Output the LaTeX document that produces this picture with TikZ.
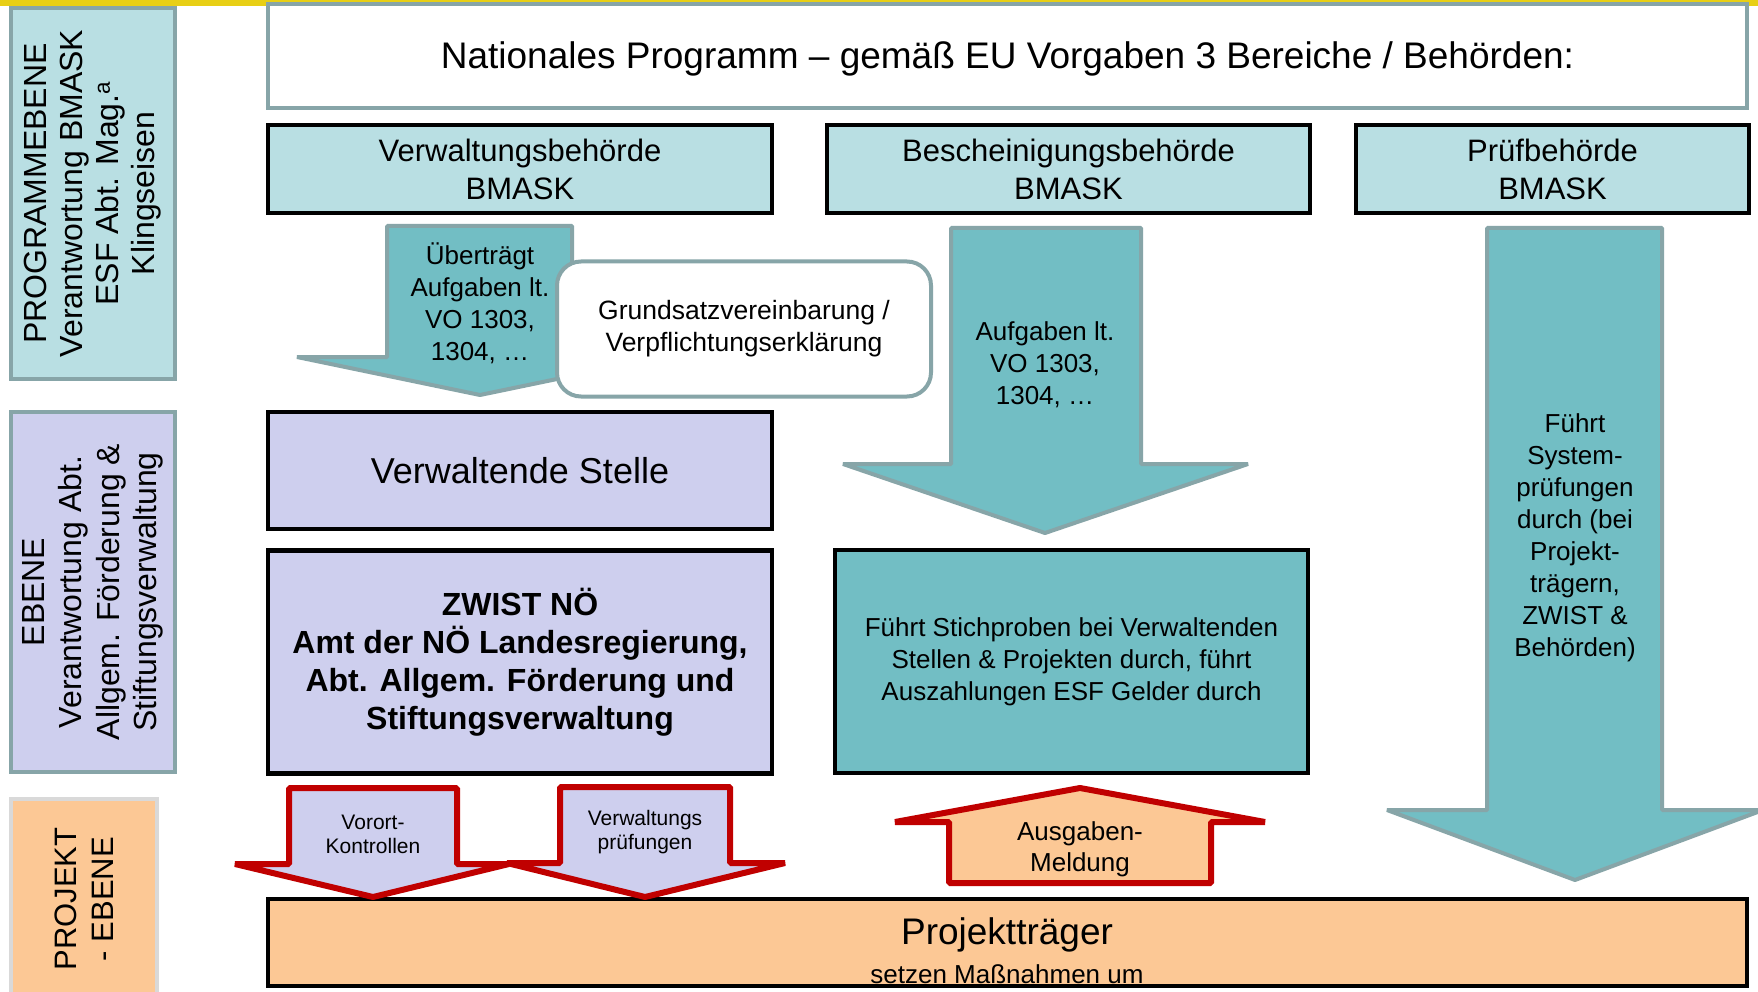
\documentclass[tikz,border=0pt]{standalone}
\usepackage{fontspec}
\setmainfont{Liberation Sans}
\definecolor{lteal}{HTML}{B9DFE3}
\definecolor{tealf}{HTML}{72BEC4}
\definecolor{gteal}{HTML}{87A5A8}
\definecolor{lav}{HTML}{CECFEE}
\definecolor{orng}{HTML}{FCC895}
\definecolor{redb}{HTML}{C00000}
\definecolor{yel}{HTML}{E8CF15}
\definecolor{lgray}{HTML}{D9D9D9}
\newcommand{\fsz}[2]{\fontsize{#1}{#2}\selectfont}
\begin{document}
\begin{tikzpicture}[x=1pt,y=-1pt,
  box/.style={draw=black, line width=4.5pt, inner sep=0pt, align=center},
  lvl/.style={draw=gteal, line width=4pt, inner sep=0pt, align=center, rotate=90},
  tarrow/.style={fill=tealf, draw=gteal, line width=4pt, line join=bevel},
  rarrow/.style={draw=redb, line width=6pt, line join=bevel},
  lbl/.style={align=center, inner sep=0pt}]
\useasboundingbox (0,0) rectangle (1758,992);
\clip (0,0) rectangle (1758,992);
\fill[white] (0,0) rectangle (1758,992);
\fill[yel] (0,0) rectangle (1758,6);

% left column
\node[lvl, fill=lteal, minimum width=371pt, minimum height=164pt, font=\fsz{32}{36}] (prog) at (93,193.5)
  {PROGRAMMEBENE\\Verantwortung BMASK\\ESF Abt. Mag.\textsuperscript{a}\\Klingseisen};
\node[lvl, fill=lav, minimum width=360pt, minimum height=164pt, font=\fsz{32}{37.5}] (eb) at (93,592)
  {EBENE\\Verantwortung Abt.\\Allgem. Förderung \&\\Stiftungsverwaltung};
\node[lvl, draw=lgray, fill=orng, minimum width=200pt, minimum height=146pt, font=\fsz{31}{37}] (pj) at (84,899)
  {PROJEKT\\- EBENE};

% top
\node[box, draw=gteal, line width=4pt, fill=white, minimum width=1479pt, minimum height=104pt] (nat) at (1007.5,56) {};
\node[lbl, font=\fsz{37}{44}] (natt) at (1007.5,59) {Nationales Programm – gemäß EU Vorgaben 3 Bereiche / Behörden:};

\node[box, fill=lteal, minimum width=504pt, minimum height=88pt, font=\fsz{31}{38}] (vb) at (520,169) {Verwaltungsbehörde\\BMASK};
\node[box, fill=lteal, minimum width=483pt, minimum height=88pt, font=\fsz{31}{38}] (bb) at (1068.5,169) {Bescheinigungsbehörde\\BMASK};
\node[box, fill=lteal, minimum width=393pt, minimum height=88pt, font=\fsz{31}{38}] (pb) at (1552.5,169) {Prüfbehörde\\BMASK};

% teal arrows
\filldraw[tarrow] (387,226) -- (572,226) -- (572,357) -- (663,357) -- (480,395) -- (297,357) -- (387,357) -- cycle;
\node[lbl, font=\fsz{26}{32}] (a1t) at (480,303) {Überträgt\\Aufgaben lt.\\VO 1303,\\1304, …};
\node[box, draw=gteal, line width=4pt, fill=white, rounded corners=24pt, minimum width=374pt, minimum height=135pt, font=\fsz{26.5}{32}] (grund) at (744,329)
  {Grundsatzvereinbarung /\\Verpflichtungserklärung};

\filldraw[tarrow] (951,228) -- (1141,228) -- (1141,464) -- (1248,464) -- (1045,533) -- (843,464) -- (951,464) -- cycle;
\node[lbl, font=\fsz{26}{32}] (a2t) at (1045,365) {Aufgaben lt.\\VO 1303,\\1304, …};

\filldraw[tarrow] (1487,228) -- (1662,228) -- (1662,810) -- (1763,810) -- (1575,880) -- (1387,810) -- (1487,810) -- cycle;
\node[lbl, font=\fsz{26}{32}] (a3t) at (1575,538) {Führt\\System-\\prüfungen\\durch (bei\\Projekt-\\trägern,\\ZWIST \&\\Behörden)};

% middle level
\node[box, fill=lav, minimum width=504pt, minimum height=117pt, font=\fsz{36}{42}] (vs) at (520,470.5) {Verwaltende Stelle};
\node[box, fill=lav, minimum width=504pt, minimum height=223pt, font=\bfseries\fsz{32}{38}] (zw) at (520,662)
  {ZWIST NÖ\\Amt der NÖ Landesregierung,\\Abt. Allgem. Förderung und\\Stiftungsverwaltung};
\node[box, fill=tealf, minimum width=473pt, minimum height=223pt, font=\fsz{26}{32}] (st) at (1071.5,661.5)
  {Führt Stichproben bei Verwaltenden\\Stellen \& Projekten durch, führt\\Auszahlungen ESF Gelder durch};

% bottom
\node[box, fill=orng, minimum width=1479pt, minimum height=87pt] (pt) at (1007.5,942.5) {};
\node[lbl, font=\fsz{37}{44}] (ptt) at (1007,935) {Projektträger};
\node[lbl, font=\fsz{26}{30}] (pts) at (1007,974) {setzen Maßnahmen um};

% red arrows
\filldraw[rarrow, fill=lav] (289,788) -- (457,788) -- (457,864) -- (509,864) -- (373,897) -- (235,864) -- (289,864) -- cycle;
\node[lbl, font=\fsz{21}{24}] (r1t) at (373,834) {Vorort-\\Kontrollen};
\filldraw[rarrow, fill=lav] (560,787) -- (730,787) -- (730,863) -- (785,863) -- (645,897) -- (507,863) -- (560,863) -- cycle;
\node[lbl, font=\fsz{21}{24}] (r2t) at (645,832) {Verwaltungs\\prüfungen};
\filldraw[rarrow, fill=orng] (949,883) -- (1211,883) -- (1211,822) -- (1265,822) -- (1080,788) -- (895,822) -- (949,822) -- cycle;
\node[lbl, font=\fsz{26}{31}] (ut) at (1080,849) {Ausgaben-\\Meldung};
\end{tikzpicture}
\end{document}
